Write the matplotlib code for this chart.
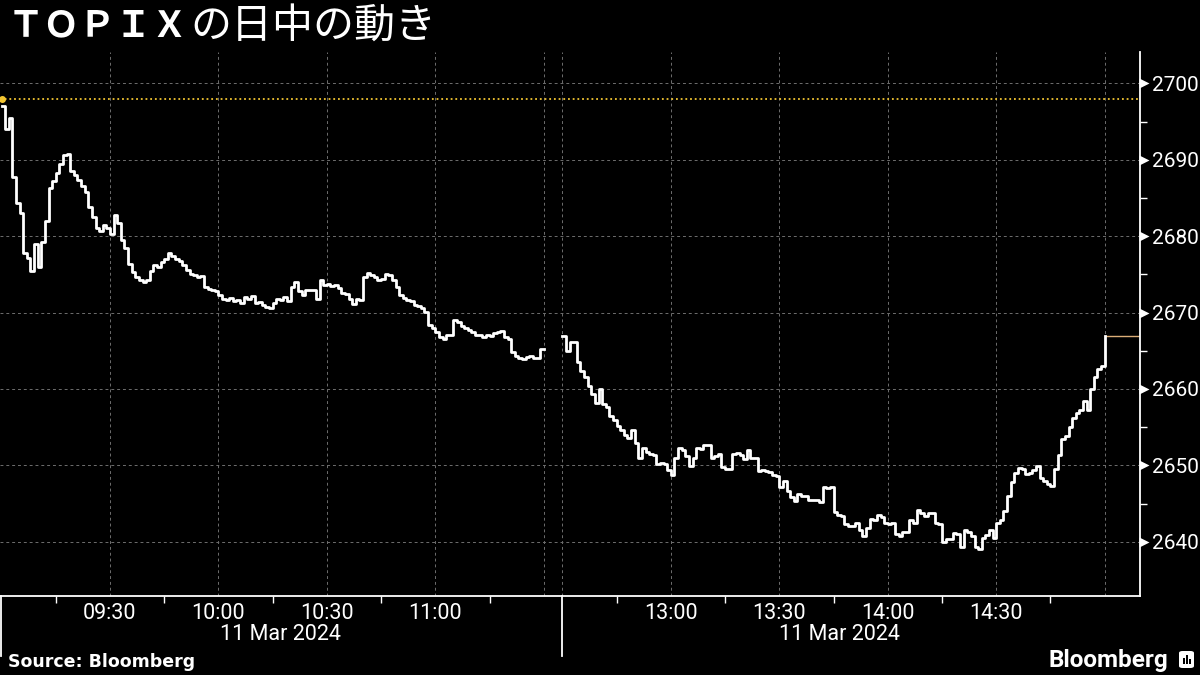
import numpy as np
import matplotlib
matplotlib.use("Agg")
import matplotlib.pyplot as plt
from matplotlib.lines import Line2D
from matplotlib.patches import FancyBboxPatch, Rectangle
from matplotlib.transforms import blended_transform_factory, ScaledTranslation

# TOPIX intraday, 11 Mar 2024, one value per minute
morning_start = "09:00"
morning_values = [
    2697.0, 2694.0, 2695.5, 2687.8, 2684.3, 2683.0, 2677.8, 2677.2, 2675.5, 2679.0,
    2676.0, 2679.2, 2682.0, 2686.3, 2687.2, 2688.3, 2689.5, 2690.6, 2690.8, 2688.5,
    2688.0, 2687.3, 2686.5, 2685.8, 2683.8, 2682.5, 2681.0, 2680.7, 2681.4, 2681.0,
    2680.3, 2682.8, 2681.7, 2679.5, 2678.5, 2676.3, 2675.3, 2674.6, 2674.3, 2674.0,
    2674.2, 2675.4, 2676.2, 2676.0, 2676.6, 2677.0, 2677.8, 2677.4, 2677.0, 2676.8,
    2676.2, 2675.6, 2675.0, 2674.9, 2674.6, 2674.8, 2673.3, 2673.1, 2673.0, 2672.8,
    2672.3, 2671.8, 2671.7, 2671.9, 2671.5, 2671.6, 2671.2, 2672.0, 2671.8, 2672.1,
    2671.3, 2671.4, 2671.0, 2670.7, 2670.6, 2671.3, 2671.8, 2671.6, 2672.0, 2671.5,
    2673.3, 2674.0, 2672.8, 2672.3, 2673.0, 2672.9, 2673.0, 2671.8, 2674.2, 2673.6,
    2673.8, 2673.5, 2673.6, 2673.2, 2672.6, 2672.4, 2671.8, 2671.1, 2671.8, 2671.7,
    2674.7, 2675.2, 2674.9, 2674.6, 2674.3, 2674.4, 2675.1, 2674.9, 2674.3, 2673.4,
    2672.3, 2671.9, 2671.6, 2671.5, 2671.0, 2670.8, 2670.6, 2670.1, 2668.4, 2668.0,
    2667.5, 2666.8, 2666.6, 2667.0, 2667.1, 2669.0, 2668.8, 2668.2, 2668.0, 2667.7,
    2667.5, 2667.0, 2667.1, 2666.8, 2667.1, 2666.9, 2667.3, 2667.4, 2667.6, 2666.8,
    2666.5, 2664.8, 2664.3, 2664.0, 2663.9, 2664.2, 2664.3, 2664.0, 2664.1, 2665.2,
    2665.2,
]
afternoon_start = "12:30"
afternoon_values = [
    2666.9, 2665.0, 2666.2, 2666.2, 2663.5, 2662.4, 2661.5, 2660.4, 2659.3, 2658.2,
    2660.0, 2658.0, 2657.6, 2656.4, 2656.0, 2655.2, 2654.6, 2654.0, 2653.6, 2654.6,
    2652.9, 2650.9, 2652.3, 2651.8, 2651.5, 2651.4, 2650.2, 2650.3, 2650.2, 2649.4,
    2648.8, 2651.0, 2652.3, 2652.0, 2651.2, 2649.9, 2651.0, 2652.3, 2652.2, 2652.6,
    2652.7, 2651.0, 2651.2, 2651.5, 2649.8, 2649.5, 2649.5, 2651.5, 2651.6, 2651.3,
    2650.8, 2652.0, 2651.0, 2650.9, 2649.2, 2649.4, 2649.3, 2649.1, 2648.8, 2648.6,
    2647.2, 2647.9, 2646.6, 2645.8, 2645.3, 2646.2, 2646.0, 2646.0, 2645.5, 2645.5,
    2645.4, 2645.2, 2647.2, 2647.1, 2647.2, 2643.9, 2643.5, 2643.4, 2642.3, 2642.0,
    2642.0, 2642.5, 2641.5, 2640.8, 2641.8, 2643.0, 2642.9, 2643.5, 2643.2, 2642.5,
    2642.3, 2642.5, 2641.0, 2640.8, 2641.3, 2641.3, 2642.9, 2642.5, 2644.2, 2643.8,
    2643.4, 2643.8, 2643.8, 2642.5, 2642.3, 2640.0, 2640.3, 2640.3, 2641.2, 2641.0,
    2639.3, 2641.6, 2641.3, 2640.7, 2639.3, 2639.1, 2640.5, 2640.9, 2641.6, 2640.5,
    2642.5, 2642.9, 2644.0, 2646.0, 2647.8, 2649.0, 2649.6, 2649.5, 2648.9, 2649.0,
    2649.4, 2649.9, 2648.3, 2648.0, 2647.6, 2647.3, 2649.5, 2651.4, 2653.4, 2653.8,
    2655.0, 2656.2, 2656.8, 2657.3, 2658.4, 2657.2, 2660.0, 2661.5, 2662.6, 2663.0,
    2666.9,
]
prev_close = 2697.9
last_price = 2666.9

morning_labels = ["09:30", "10:00", "10:30", "11:00"]
afternoon_labels = ["13:00", "13:30", "14:00", "14:30"]
date_label = "11 Mar 2024"
y_ticks = [2640, 2650, 2660, 2670, 2680, 2690, 2700]

title_bold = "ＴＯＰＩＸ"
title_rest = "の日中の動き"
source_text = "Source: Bloomberg"

# lunch break is squeezed to a short gap on the time axis
GAP = 5.15
pm_offset = len(morning_values) - 1 + GAP

YELLOW = "#f2c531"
ORANGE = "#dcae78"
GRID = "#6e6e6e"

fig = plt.figure(figsize=(12, 6.75), dpi=100, facecolor="black")
W, H = 1200.0, 675.0
ax = fig.add_axes([0, 1 - 596 / H, 1139.5 / W, 544 / H])
ax.set_facecolor("black")

x_am = np.arange(len(morning_values))
x_pm = np.arange(len(afternoon_values)) + pm_offset
x_end = pm_offset + len(afternoon_values) - 1
x_right = x_end + 9.64

ax.set_xlim(-0.42, x_right)
ax.set_ylim(2632.9, 2704.1)

# previous close, dotted
ax.axhline(prev_close, color=YELLOW, lw=1.3, ls=(0, (1, 1.6)), zorder=2)
ax.plot([0], [prev_close], "o", color=YELLOW, ms=4, zorder=4, clip_on=False)

ax.plot(x_am, morning_values, color="white", lw=2.0, drawstyle="steps-post", zorder=3)
ax.plot(x_pm, afternoon_values, color="white", lw=2.0, drawstyle="steps-post", zorder=3)
ax.plot([x_end, x_right], [last_price, last_price], color=ORANGE, lw=1.0, zorder=2)

# grid / ticks
major_x = [30, 60, 90, 120, 150] + [pm_offset + m for m in (0, 30, 60, 90, 120, 150)]
major_lab = morning_labels + [""] + [""] + afternoon_labels + [""]
minor_x = [15, 45, 75, 105, 135] + [pm_offset + m for m in (15, 45, 75, 105, 135)]
ax.set_xticks(major_x)
ax.set_xticklabels(major_lab)
ax.set_xticks(minor_x, minor=True)
ax.set_yticks(y_ticks)
ax.set_yticks([v + 5 for v in y_ticks[:-1]], minor=True)
ax.yaxis.tick_right()

ax.grid(True, which="major", color=GRID, lw=0.7, ls=(0, (3, 3)))
ax.set_axisbelow(True)

for side in ("left", "top"):
    ax.spines[side].set_visible(False)
for side in ("right", "bottom"):
    ax.spines[side].set_color("white")
    ax.spines[side].set_linewidth(1.3)

ax.tick_params(axis="x", which="major", length=0, pad=5, labelsize=15.5,
               labelcolor="white", labelfontfamily="Roboto")
ax.tick_params(axis="x", which="minor", length=5, width=1, color="white")
ax.tick_params(axis="y", which="major", length=0, pad=9,
               labelsize=15, labelcolor="white", labelfontfamily="Roboto")
ax.tick_params(axis="y", which="minor", length=5, width=1, color="white")

# arrow-shaped major ticks on the right axis
tri = blended_transform_factory(ax.transAxes, ax.transData) + \
    ScaledTranslation(3.2 / 72, 0, fig.dpi_scale_trans)
ax.plot([1.0] * len(y_ticks), y_ticks, ls="none", marker=">", ms=6.5, color="white",
        mec="none", transform=tri, clip_on=False)

# date row under each session
fig.text(280 / W, 1 - 634 / H, date_label, color="white", fontsize=15.5,
         family="Roboto", ha="center", va="center")
fig.text(839 / W, 1 - 634 / H, date_label, color="white", fontsize=15.5,
         family="Roboto", ha="center", va="center")
for xp in (0.8, 561.6):
    fig.add_artist(Line2D([xp / W, xp / W], [1 - 596 / H, 1 - 656 / H],
                          color="white", lw=1.3))

# title
fig.text(8 / W, 1 - 26 / H, title_bold, color="white", fontsize=26,
         family="Noto Sans CJK JP", fontweight="bold", va="center")
fig.text(190 / W, 1 - 26 / H, title_rest, color="white", fontsize=29.5,
         family="Noto Sans CJK JP", va="center")

# footer
fig.text(8 / W, 1 - 662 / H, source_text, color="white", fontsize=12.5,
         family="DejaVu Sans", fontweight="bold", va="center")
fig.text(1168 / W, 1 - 660 / H, "Bloomberg", color="white", fontsize=17.5,
         family="Roboto", fontweight="bold", va="center", ha="right")
fig.add_artist(FancyBboxPatch((1179 / W, 1 - 668 / H), 15 / W, 17 / H,
                              boxstyle="round,pad=0,rounding_size=0.003",
                              transform=fig.transFigure, fc="white", ec="none"))
for bx, bh in ((1183, 6), (1186, 9), (1189, 5)):
    fig.add_artist(Rectangle((bx / W, 1 - 664 / H), 1.6 / W, bh / H,
                             transform=fig.transFigure, fc="black", ec="none"))

fig.savefig("out.png", dpi=100, facecolor="black")
